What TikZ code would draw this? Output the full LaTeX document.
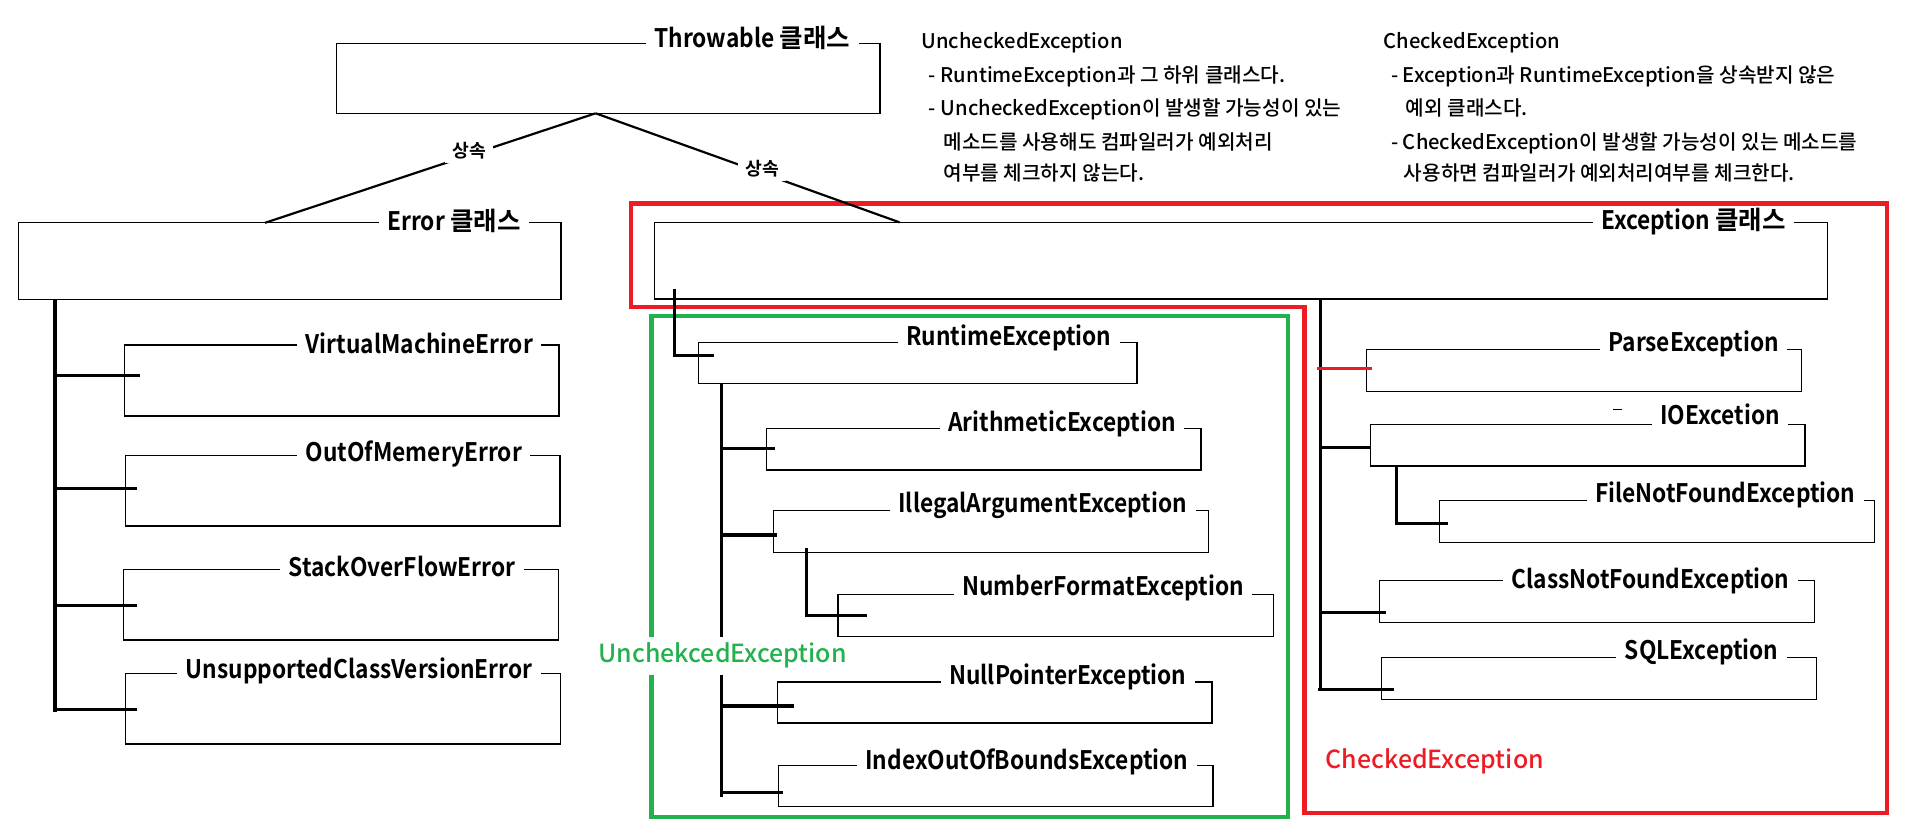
\documentclass[tikz,border=0pt]{standalone}
\usepackage{fontspec}
\setmainfont{Noto Sans CJK KR}[BoldFont={Noto Sans CJK KR Bold}]
\newfontfamily\lbold{Noto Sans CJK KR Bold}[FakeStretch=0.89]
\newfontfamily\kbold{Noto Sans CJK KR Bold}
\newfontfamily\dmed{Noto Sans CJK KR Medium}
\usetikzlibrary{fit,calc}
\definecolor{pred}{HTML}{ED1C24}
\definecolor{pgreen}{HTML}{22B14C}
\tikzset{
  clsbox/.style={draw, line width=1.1pt, inner sep=0pt, outer sep=0pt},
  clstitle/.style={fill=white, inner xsep=7pt, inner ysep=1pt, anchor=base,
    text height=15pt, text depth=5pt, font=\fontsize{21}{24}\lbold},
  inherit/.style={draw, line width=1.8pt},
  inhlabel/.style={fill=white, inner xsep=6pt, inner ysep=3pt, font=\fontsize{15}{18}\kbold},
  trunk/.style={draw, line width=2.6pt},
  conn/.style={draw, line width=2.3pt},
  redzone/.style={draw=pred, line width=3.6pt, line join=miter},
  greenzone/.style={draw=pgreen, line width=3.4pt},
  desc/.style={anchor=base west, inner sep=0pt, font=\fontsize{16.6}{20}\dmed},
  zonelabel/.style={font=\fontsize{20.5}{24}\dmed},
}
\newcommand\mkbox[5]{\node[clsbox, fit={(#2,#3) (#4,#5)}] (#1) {};}
\newcommand\mktitle[4]{\node[clstitle] (#1-t) at (#2,#3) {#4};}
\newcommand\kls{{\kbold 클래스}}
\begin{document}
\begin{tikzpicture}[x=1pt,y=-1pt]
\useasboundingbox (0,0) rectangle (1568,689);
\fill[white] (0,0) rectangle (1568,689);

% regions
\draw[redzone] (519,167.3) -- (1552.6,167.3) -- (1552.6,669) -- (1073,669) -- (1073,252.3) -- (519,252.3) -- cycle;
\draw[greenzone] (536,259.7) rectangle (1059.4,671.8);

% class boxes
\mkbox{throw}{277}{35.6}{724}{93.2}
\mkbox{error}{15.1}{183.3}{461.6}{246.3}
\mkbox{vme}{102.4}{283.8}{460}{342.2}
\mkbox{oom}{103}{374.9}{460.7}{432.8}
\mkbox{soe}{101.4}{468.4}{459.3}{526.5}
\mkbox{ucv}{103}{554.2}{461}{612}
\mkbox{exc}{538.3}{182.9}{1503.4}{246.1}
\mkbox{rte}{574.7}{281.9}{935.3}{315.3}
\mkbox{ari}{630.5}{352.4}{988}{386.6}
\mkbox{ill}{636.4}{420.1}{994}{454.4}
\mkbox{nfe}{689.5}{489.2}{1047.5}{523.4}
\mkbox{npe}{639.5}{561}{997}{594.8}
\mkbox{iob}{640.3}{629.9}{997.9}{663.6}
\mkbox{pe}{1123.9}{287.4}{1482}{321.9}
\mkbox{io}{1127.4}{349}{1485}{383.4}
\mkbox{fnf}{1184}{411.9}{1542}{446.1}
\mkbox{cnf}{1134.9}{477.4}{1492.8}{511.9}
\mkbox{sql}{1136.6}{540.7}{1494.3}{575.3}

% inheritance lines from Throwable
\coordinate (apex) at (490,93.2);
\coordinate (errtop) at (218,183.3);
\coordinate (exctop) at (740,182.9);
\draw[inherit] (apex) -- (errtop);
\draw[inherit] (apex) -- (exctop);
\node[inhlabel] (inhL) at (386,124) {상속};
\node[inhlabel] (inhR) at (627,139) {상속};

% Error subtree
\coordinate (etb) at (45.3,585.5);
\draw[trunk] (error.south -| etb) -- (etb);
\coordinate (b-vme) at (45.3,308.6);
\coordinate (b-oom) at (45.3,401.7);
\coordinate (b-soe) at (45.3,498);
\coordinate (b-ucv) at (45.3,583.5);
\draw[trunk] (b-vme) -- ([xshift=12.4pt]b-vme -| vme.west);
\draw[trunk] (b-oom) -- ([xshift=9.5pt]b-oom -| oom.west);
\draw[trunk] (b-soe) -- ([xshift=11.1pt]b-soe -| soe.west);
\draw[trunk] (b-ucv) -- ([xshift=9.5pt]b-ucv -| ucv.west);

% Exception -> RuntimeException
\coordinate (xr0) at (554.9,237.7);
\coordinate (xr1) at (554.9,292.3);
\draw[conn] (xr0) -- (xr1) -- ([xshift=12.5pt]xr1 -| rte.west);

% RuntimeException subtree
\coordinate (rtb) at (593.6,655.4);
\draw[trunk] (rte.south -| rtb) -- (rtb);
\coordinate (b-ari) at (593.6,368.8);
\coordinate (b-ill) at (593.6,440.1);
\coordinate (b-npe) at (593.6,580.8);
\coordinate (b-iob) at (593.6,651.8);
\draw[trunk] (b-ari) -- ([xshift=7.4pt]b-ari -| ari.west);
\draw[trunk] (b-ill) -- ([xshift=3.1pt]b-ill -| ill.west);
\draw[trunk] (b-npe) -- ([xshift=13.6pt]b-npe -| npe.west);
\draw[trunk] (b-iob) -- ([xshift=4.2pt]b-iob -| iob.west);
\coordinate (n0) at (663.5,451);
\coordinate (n1) at (663.5,506.5);
\draw[conn] (n0) -- ([yshift=-1.2pt]n1);
\draw[conn] (n1) -- ([xshift=24.1pt]n1 -| nfe.west);

% Exception (checked) subtree
\coordinate (ctb) at (1086.2,567.6);
\draw[conn] (exc.south -| ctb) -- (ctb);
\coordinate (b-pe) at (1083.8,303);
\coordinate (b-io) at (1086.2,368);
\coordinate (b-cnf) at (1086.2,503.7);
\coordinate (b-sql) at (1084.5,567);
\draw[draw=pred, line width=2pt] (b-pe) -- ([xshift=5.1pt]b-pe -| pe.west);
\draw[conn] (b-io) -- (b-io -| io.west);
\draw[conn] (b-cnf) -- ([xshift=4.9pt]b-cnf -| cnf.west);
\draw[conn] (b-sql) -- ([xshift=10.2pt]b-sql -| sql.west);
\coordinate (f1) at (1149.1,430.5);
\draw[conn] (io.south -| f1) -- (f1) -- ([xshift=7.2pt]f1 -| fnf.west);
\coordinate (dashL) at (1327,336.7);
\coordinate (dashR) at (1334,336.7);
\draw[line width=1.1pt] (dashL) -- (dashR);

% titles
\mktitle{throw}{619}{39.2}{Throwable \kls}
\mktitle{error}{373.5}{189.3}{Error \kls}
\mktitle{vme}{345}{290.8}{VirtualMachineError}
\mktitle{oom}{340.5}{379.5}{OutOfMemeryError}
\mktitle{soe}{330.7}{474.1}{StackOverFlowError}
\mktitle{ucv}{295.5}{557.9}{UnsupportedClassVersionError}
\mktitle{exc}{1393}{189.1}{Exception \kls}
\mktitle{rte}{829.9}{284.4}{RuntimeException}
\mktitle{ari}{873.7}{354.8}{ArithmeticException}
\mktitle{ill}{857.8}{421.9}{IllegalArgumentException}
\mktitle{nfe}{907.5}{489.6}{NumberFormatException}
\mktitle{npe}{878.4}{562.8}{NullPointerException}
\mktitle{iob}{844.8}{632.8}{IndexOutOfBoundsException}
\mktitle{pe}{1393.3}{288.8}{ParseException}
\mktitle{io}{1415}{349.2}{IOExcetion}
\mktitle{fnf}{1419.2}{413.5}{FileNotFoundException}
\mktitle{cnf}{1357.8}{483.9}{ClassNotFoundException}
\mktitle{sql}{1399.9}{542.4}{SQLException}

% zone labels
\node[zonelabel, text=pgreen, fill=white, minimum height=31.6pt, inner xsep=0pt] (uncl) at (594.5,539.5) {UnchekcedException};
\node[zonelabel, text=pred] (chkl) at (1180.4,626.6) {CheckedException};

% descriptions
\node[desc] (l1) at (757.7,40.3) {UncheckedException};
\node[desc] (l2) at (764,67.7) {- RuntimeException과 그 하위 클래스다.};
\node[desc] (l3) at (764,95.1) {- UncheckedException이 발생할 가능성이 있는};
\node[desc] (l4) at (776,122.6) {메소드를 사용해도 컴파일러가 예외처리};
\node[desc] (l5) at (776,148.6) {여부를 체크하지 않는다.};
\node[desc] (r1) at (1138,40.3) {CheckedException};
\node[desc] (r2) at (1144.3,67.7) {- Exception과 RuntimeException을 상속받지 않은};
\node[desc] (r3) at (1156.4,95.1) {예외 클래스다.};
\node[desc] (r4) at (1144.3,122.6) {- CheckedException이 발생할 가능성이 있는 메소드를};
\node[desc] (r5) at (1154.8,148.6) {사용하면 컴파일러가 예외처리여부를 체크한다.};
\end{tikzpicture}
\end{document}
